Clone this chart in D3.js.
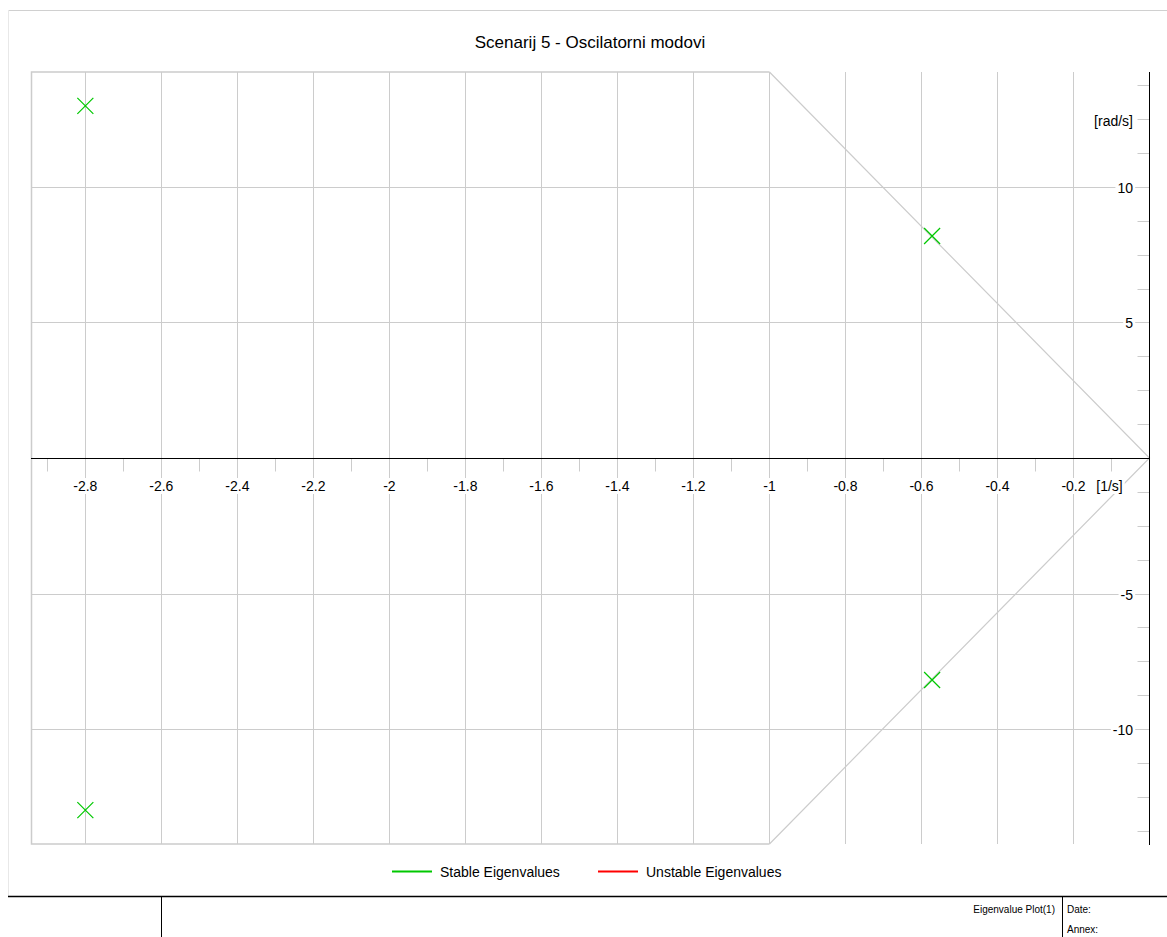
<!DOCTYPE html>
<html>
<head>
<meta charset="utf-8">
<script src="https://cdn.jsdelivr.net/npm/d3@7/dist/d3.min.js"></script>
<style>
  html, body { margin: 0; padding: 0; background: #fff; }
  svg { display: block; font-family: "Liberation Sans", Arial, sans-serif; }
</style>
</head>
<body>
<svg id="chart" width="1167" height="937"></svg>
<script>
// ---- data ----
const title = "Scenarij 5 - Oscilatorni modovi";
const stableReal = [-2.8, -2.8, -0.572, -0.572];
const stableImag = [12.99, -12.99, 8.19, -8.19];
const unstableReal = [];
const unstableImag = [];
const xMajorTicks = [-2.8, -2.6, -2.4, -2.2, -2.0, -1.8, -1.6, -1.4, -1.2, -1.0, -0.8, -0.6, -0.4, -0.2];
const xTickLabels = ["-2.8", "-2.6", "-2.4", "-2.2", "-2", "-1.8", "-1.6", "-1.4", "-1.2", "-1", "-0.8", "-0.6", "-0.4", "-0.2"];
const xMinorTicks = [-2.9, -2.7, -2.5, -2.3, -2.1, -1.9, -1.7, -1.5, -1.3, -1.1, -0.9, -0.7, -0.5, -0.3, -0.1];
const yMajorTicks = [-10, -5, 5, 10];
const yTickLabels = ["-10", "-5", "5", "10"];
const yMinorTicks = [-13.75, -12.5, -11.25, -10, -8.75, -7.5, -6.25, -5, -3.75, -2.5, -1.25,
                     1.25, 2.5, 3.75, 5, 6.25, 7.5, 8.75, 10, 11.25, 12.5, 13.75];
const xDomain = [-2.943, 0];
const yDomain = [-14.24, 14.24];
const boundaryReal = [-1, 0, -1];          // stability-margin wedge vertices (real part)
const xUnit = "[1/s]";
const yUnit = "[rad/s]";
const legendLabels = ["Stable Eigenvalues", "Unstable Eigenvalues"];
const legendColors = ["#00c800", "#ff0000"];
const footerTitle = "Eigenvalue Plot(1)";
const footerFields = ["Date:", "Annex:"];

// ---- layout ----
const W = 1167, H = 937;
const pLeft = 31, pRight = 1149.5, pTop = 72, pBottom = 844;
const svg = d3.select("#chart");
const x = d3.scaleLinear().domain(xDomain).range([pLeft, pRight]);
const y = d3.scaleLinear().domain(yDomain).range([pBottom, pTop]);
const grid = "#cccccc";

// outer frame
svg.append("line").attr("x1", 8).attr("x2", W).attr("y1", 10.5).attr("y2", 10.5)
  .attr("stroke", "#d0d0d0").attr("stroke-width", 1);
svg.append("line").attr("x1", 8.5).attr("x2", 8.5).attr("y1", 10).attr("y2", 896)
  .attr("stroke", "#e8e8e8").attr("stroke-width", 1);

// title
svg.append("text").attr("x", 590).attr("y", 48).attr("text-anchor", "middle")
  .attr("font-size", 17).attr("fill", "#000").text(title);

// vertical gridlines
svg.append("g").selectAll("line").data(xMajorTicks).join("line")
  .attr("x1", d => Math.round(x(d)) + 0.5).attr("x2", d => Math.round(x(d)) + 0.5)
  .attr("y1", pTop).attr("y2", pBottom)
  .attr("stroke", grid).attr("stroke-width", 1);

// horizontal gridlines
svg.append("g").selectAll("line").data(yMajorTicks).join("line")
  .attr("x1", pLeft).attr("x2", pRight)
  .attr("y1", d => Math.round(y(d)) + 0.5).attr("y2", d => Math.round(y(d)) + 0.5)
  .attr("stroke", grid).attr("stroke-width", 1);

// plot border (left, top and bottom up to real = -1)
const yTop = yDomain[1], yBot = yDomain[0];
svg.append("path")
  .attr("d", `M${x(boundaryReal[0])},${y(yTop)}H${pLeft + 0.5}V${y(yBot)}H${x(boundaryReal[2])}`)
  .attr("fill", "none").attr("stroke", grid).attr("stroke-width", 1.5);

// damping wedge
const wedge = [[boundaryReal[0], yTop], [boundaryReal[1], 0], [boundaryReal[2], yBot]];
svg.append("path")
  .attr("d", d3.line().x(d => x(d[0])).y(d => y(d[1]))(wedge))
  .attr("fill", "none").attr("stroke", grid).attr("stroke-width", 1.2);

// x minor ticks
const xAxisY = Math.round(y(0)) + 0.5;
svg.append("g").selectAll("line").data(xMinorTicks).join("line")
  .attr("x1", d => Math.round(x(d)) + 0.5).attr("x2", d => Math.round(x(d)) + 0.5)
  .attr("y1", xAxisY).attr("y2", xAxisY + 13)
  .attr("stroke", grid).attr("stroke-width", 1);

// y minor ticks
const yAxisX = Math.round(pRight) - 0.5;
svg.append("g").selectAll("line").data(yMinorTicks).join("line")
  .attr("x1", yAxisX - 12).attr("x2", yAxisX)
  .attr("y1", d => Math.round(y(d)) + 0.5).attr("y2", d => Math.round(y(d)) + 0.5)
  .attr("stroke", grid).attr("stroke-width", 1);

// axes lines
svg.append("line").attr("x1", pLeft).attr("x2", pRight).attr("y1", xAxisY).attr("y2", xAxisY)
  .attr("stroke", "#000").attr("stroke-width", 1);
svg.append("line").attr("x1", yAxisX).attr("x2", yAxisX).attr("y1", pTop).attr("y2", pBottom + 1)
  .attr("stroke", "#000").attr("stroke-width", 1);

// label helper with white background
function label(g, tx, ty, txt, anchor, size) {
  const t = g.append("text").attr("x", tx).attr("y", ty).attr("text-anchor", anchor)
    .attr("dominant-baseline", "central").attr("font-size", size).attr("fill", "#000").text(txt);
  const bb = t.node().getBBox();
  g.insert("rect", "text").attr("x", bb.x - 2).attr("y", bb.y).attr("width", bb.width + 4)
    .attr("height", bb.height).attr("fill", "#fff");
  return t;
}
// x tick labels
xMajorTicks.forEach((d, i) => {
  label(svg.append("g"), x(d), 486, xTickLabels[i], "middle", 14);
});
label(svg.append("g"), x(-0.1) - 2, 486, xUnit, "middle", 14);

// y tick labels
yMajorTicks.forEach((d, i) => {
  label(svg.append("g"), 1133, y(d) + 1, yTickLabels[i], "end", 14);
});
label(svg.append("g"), 1133, y(12.5) + 2, yUnit, "end", 14);

// eigenvalue markers (x crosses)
const pts = stableReal.map((r, i) => ({ re: r, im: stableImag[i], c: legendColors[0] }))
  .concat(unstableReal.map((r, i) => ({ re: r, im: unstableImag[i], c: legendColors[1] })));
const s = 8;
svg.append("g").selectAll("path").data(pts).join("path")
  .attr("d", d => {
    const px = x(d.re), py = y(d.im);
    return `M${px - s},${py - s}L${px + s},${py + s}M${px - s},${py + s}L${px + s},${py - s}`;
  })
  .attr("stroke", d => d.c).attr("stroke-width", 1.2).attr("fill", "none");

// legend
const legX = [392, 598];
legendLabels.forEach((t, i) => {
  svg.append("line").attr("x1", legX[i]).attr("x2", legX[i] + 40).attr("y1", 871.5).attr("y2", 871.5)
    .attr("stroke", legendColors[i]).attr("stroke-width", 2);
  svg.append("text").attr("x", legX[i] + 48).attr("y", 872).attr("dominant-baseline", "central")
    .attr("font-size", 14).attr("fill", "#000").text(t);
});

// footer
svg.append("line").attr("x1", 8).attr("x2", W).attr("y1", 896.5).attr("y2", 896.5)
  .attr("stroke", "#000").attr("stroke-width", 1.5);
svg.append("line").attr("x1", 161.5).attr("x2", 161.5).attr("y1", 896).attr("y2", H)
  .attr("stroke", "#000").attr("stroke-width", 1);
svg.append("line").attr("x1", 1062.5).attr("x2", 1062.5).attr("y1", 896).attr("y2", H)
  .attr("stroke", "#000").attr("stroke-width", 1);
svg.append("text").attr("x", 1055).attr("y", 909).attr("text-anchor", "end")
  .attr("dominant-baseline", "central").attr("font-size", 10).attr("fill", "#000").text(footerTitle);
footerFields.forEach((t, i) => {
  svg.append("text").attr("x", 1067).attr("y", 909 + i * 20).attr("dominant-baseline", "central")
    .attr("font-size", 10).attr("fill", "#000").text(t);
});
</script>
</body>
</html>
